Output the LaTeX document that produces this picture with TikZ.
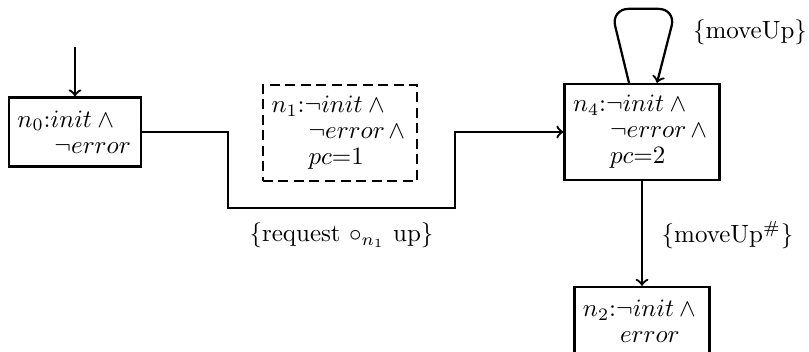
\documentclass[tikz,border=0pt]{standalone}
\usetikzlibrary{calc}
\begin{document}
\begin{tikzpicture}[x=0.4pt,y=-0.4pt,line width=0.9pt,>=to,
  state/.style={draw,inner xsep=3.4pt,inner ysep=0pt,align=left,
    font=\fontsize{10}{10.4}\selectfont},
  ghost/.style={state,dash pattern=on 4pt off 2.2pt},
  lbl/.style={inner sep=0pt}]
\useasboundingbox (0,0) rectangle (809,352);

% states
\node[state,text width=46pt,minimum height=27.6pt] (n0) at (75,132)
  {$n_0$:$init \wedge{}$\\\hspace*{14.8pt}$\neg error$};
\node[ghost,text width=54.8pt,minimum height=38.4pt] (n1) at (340,133)
  {$n_1$:$\neg init \wedge{}$\\\hspace*{14.8pt}$\neg error \wedge{}$\\\hspace*{14.8pt}$pc{=}1$};
\node[state,text width=55.2pt,minimum height=38.4pt] (n4) at (642,132)
  {$n_4$:$\neg init \wedge{}$\\\hspace*{14.8pt}$\neg error \wedge{}$\\\hspace*{14.8pt}$pc{=}2$};
\node[state,text width=47.2pt,minimum height=27.6pt] (n2) at (642,321.5)
  {$n_2$:$\neg init \wedge{}$\\\hspace*{14.8pt}$error$};

% initial arrow
\coordinate (entry) at (75,47);
\draw[->] (entry) -- (n0.north);

% n0 -> n4, routed below n1
\coordinate (d1) at (228,208);
\coordinate (d2) at (455,208);
\draw[->] (n0.east) -| (d1)
  -- node[lbl,below=5.5pt] (req) {$\{$request $\circ_{n_1}$ up$\}$} (d2)
  |- (n4.west);

% self loop on n4
\draw[->,rounded corners=7pt] ($(n4.north)+(-13,0)$) -- ++(-18,-74)
  -- ++(65,0) -- ($(n4.north)+(15,0)$);
\node[lbl] (up) at (750,32.5) {$\{$moveUp$\}$};

% n4 -> n2
\draw[->] (n4.south) -- (n2.north);
\node[lbl] (uph) at (727.5,235) {$\{$moveUp$^{\#}\}$};
\end{tikzpicture}
\end{document}
